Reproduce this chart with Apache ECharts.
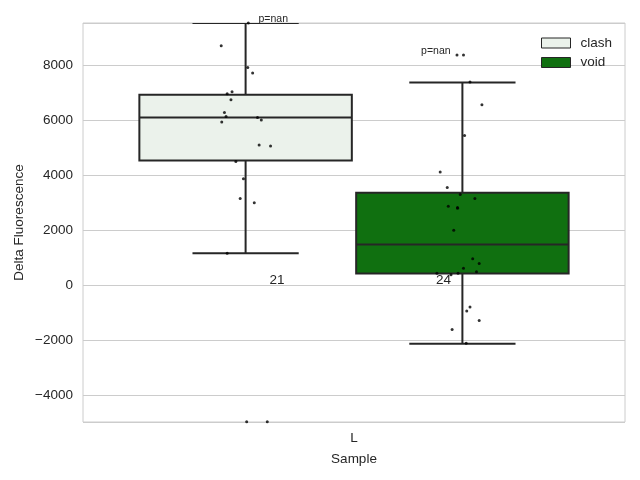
<!DOCTYPE html>
<html><head><meta charset="utf-8">
<script src="https://cdn.jsdelivr.net/npm/echarts@6/dist/echarts.min.js"></script>
<style>html,body{margin:0;padding:0;background:#fff}#c{width:640px;height:480px}</style>
</head><body><div id="c"></div>
<script>
// ---- data ----
const categories = ['L'];
const hues = ['clash', 'void'];
// box stats: [whisker low, Q1, median, Q3, whisker high]
const clashBox = [1173, 4548, 6115, 6942, 9555];
const voidBox = [-2121, 430, 1487, 3371, 7391];
// strip points (x = position on the category band, -0.5..0.5)
const clashX = [-0.195, -0.245, -0.196, -0.187, -0.225, -0.234, -0.227, -0.239, -0.236, -0.178, -0.171, -0.244, -0.175, -0.154, -0.218, -0.204, -0.210, -0.184, -0.234, -0.198, -0.160];
const clashY = [9555, 8728, 7938, 7733, 7052, 6979, 6760, 6298, 6152, 6115, 6020, 5947, 5109, 5073, 4512, 3881, 3163, 3007, 1173, -4963, -4963];
const voidX = [0.190, 0.202, 0.214, 0.236, 0.204, 0.159, 0.172, 0.196, 0.223, 0.174, 0.191, 0.191, 0.184, 0.219, 0.231, 0.202, 0.226, 0.192, 0.153, 0.179, 0.214, 0.208, 0.231, 0.181, 0.207];
const voidY = [8389, 8389, 7405, 6578, 5459, 4125, 3565, 3309, 3163, 2886, 2835, 2813, 2012, 966, 795, 627, 492, 445, 445, 383, -784, -929, -1283, -1611, -2106];
const countLabels = ['21', '24'];
const countX = [-0.142, 0.165];
const countY = [0, 0];
const pLabels = ['p=nan', 'p=nan'];
const pX = [-0.149, 0.151];
const pY = [9690, 8500];
const yMin = -4975, yMax = 9555;

// ---- styles ----
const FONT = "'Liberation Sans', Arial, sans-serif";
const TXT = '#262626';
const EDGE = '#262626';
const fills = ['#EBF2EB', '#107010'];

function boxSeries(stats, idx) {
  const center = (idx - (hues.length - 1) / 2) * 0.4;
  const halfW = 0.4 * 0.98 / 2;
  return {
    type: 'custom', name: hues[idx], xAxisIndex: 1, z: 2, clip: true,
    itemStyle: { color: fills[idx], borderColor: EDGE, borderWidth: 1 },
    data: [stats],
    encode: { x: -1, y: [0, 1, 2, 3, 4] },
    renderItem: function (params, api) {
      const lo = api.value(0), q1 = api.value(1), md = api.value(2), q3 = api.value(3), hi = api.value(4);
      const pL = api.coord([center - halfW, q1]);
      const pR = api.coord([center + halfW, q3]);
      const cx = api.coord([center, md])[0];
      const capL = api.coord([center - halfW / 2, lo])[0];
      const capR = api.coord([center + halfW / 2, lo])[0];
      const yLo = api.coord([center, lo])[1];
      const yHi = api.coord([center, hi])[1];
      const yMd = api.coord([center, md])[1];
      const ls = { stroke: EDGE, lineWidth: 2 };
      return {
        type: 'group',
        children: [
          { type: 'line', shape: { x1: cx, y1: pL[1], x2: cx, y2: yLo }, style: ls },
          { type: 'line', shape: { x1: cx, y1: pR[1], x2: cx, y2: yHi }, style: ls },
          { type: 'line', shape: { x1: capL, y1: yLo, x2: capR, y2: yLo }, style: ls },
          { type: 'line', shape: { x1: capL, y1: yHi, x2: capR, y2: yHi }, style: ls },
          { type: 'rect', shape: { x: pL[0], y: pR[1], width: pR[0] - pL[0], height: pL[1] - pR[1] },
            style: { fill: fills[idx], stroke: EDGE, lineWidth: 2 } },
          { type: 'line', shape: { x1: pL[0], y1: yMd, x2: pR[0], y2: yMd }, style: ls }
        ]
      };
    }
  };
}

function pointsSeries(xs, ys) {
  return {
    type: 'scatter', xAxisIndex: 1, z: 5, silent: true,
    data: xs.map((x, i) => [x, ys[i]]),
    symbolSize: 3, itemStyle: { color: '#000' }, clip: false
  };
}

function textSeries(xs, ys, labels, size, dy) {
  return {
    type: 'custom', xAxisIndex: 1, z: 6, silent: true, clip: false,
    data: xs.map((x, i) => [x, ys[i], i]),
    renderItem: function (params, api) {
      const p = api.coord([api.value(0), api.value(1)]);
      return {
        type: 'text', x: p[0], y: p[1] + dy,
        style: { text: labels[api.value(2)], fill: TXT, font: size + 'px ' + FONT,
                 textAlign: 'center', textVerticalAlign: 'bottom' }
      };
    }
  };
}

const chart = echarts.init(document.getElementById('c'), null, { renderer: 'canvas' });
chart.setOption({
  animation: false,
  backgroundColor: '#fff',
  textStyle: { fontFamily: FONT },
  grid: { left: 83, top: 23, width: 542, height: 399, show: true, borderColor: '#cccccc', borderWidth: 1, containLabel: false },
  legend: {
    orient: 'vertical', left: 536, top: 31, itemWidth: 29, itemHeight: 10, itemGap: 5.5,
    icon: 'rect',
    textStyle: { color: TXT, fontSize: 13.5, fontFamily: FONT, padding: [0, 0, 0, 5] },
    data: hues.map((h, i) => ({ name: h, itemStyle: { color: fills[i], borderColor: EDGE, borderWidth: 1 } }))
  },
  xAxis: [
    { type: 'category', data: categories, boundaryGap: true,
      axisLine: { show: false }, axisTick: { show: false }, splitLine: { show: false },
      axisLabel: { color: TXT, fontSize: 13.5, fontFamily: FONT, margin: 9 },
      name: 'Sample', nameLocation: 'middle', nameGap: 30, nameMoveOverlap: false,
      nameTextStyle: { color: TXT, fontSize: 13.5, fontFamily: FONT } },
    { type: 'value', min: -0.5, max: 0.5, show: false }
  ],
  yAxis: {
    type: 'value', min: yMin, max: yMax, splitNumber: 7, minInterval: 2000, maxInterval: 2000,
    axisLine: { show: false }, axisTick: { show: false },
    splitLine: { show: true, lineStyle: { color: '#cccccc', width: 1 } },
    axisLabel: { color: TXT, fontSize: 13.5, fontFamily: FONT, margin: 10, showMinLabel: false, showMaxLabel: false,
      formatter: v => (v % 2000 === 0 ? String(v).replace('-', '\u2212') : '') },
    name: 'Delta Fluorescence', nameLocation: 'middle', nameGap: 57, nameMoveOverlap: false,
    nameTextStyle: { color: TXT, fontSize: 13.5, fontFamily: FONT }
  },
  series: [
    boxSeries(clashBox, 0),
    boxSeries(voidBox, 1),
    pointsSeries(clashX, clashY),
    pointsSeries(voidX, voidY),
    textSeries(countX, countY, countLabels, 13.5, 2),
    textSeries(pX, pY, pLabels, 10.5, 5)
  ]
});
</script></body></html>
